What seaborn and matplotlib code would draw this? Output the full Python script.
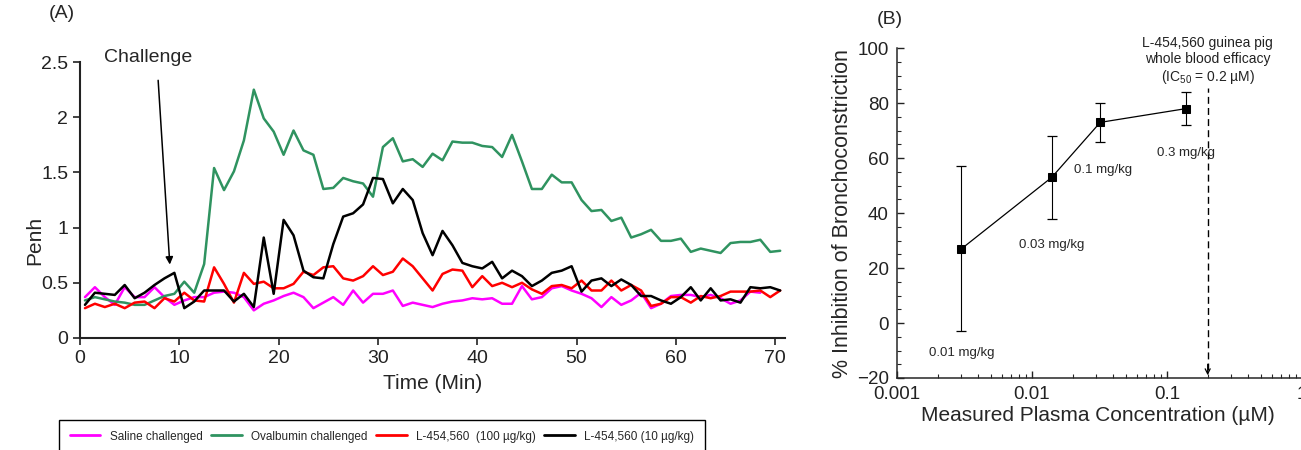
import numpy as np
import pandas as pd
import matplotlib
matplotlib.use("Agg")
import matplotlib.pyplot as plt
from matplotlib.lines import Line2D
from matplotlib.ticker import MultipleLocator, FuncFormatter
import seaborn as sns

# Panel A: Penh readings, one per minute
minutes = np.arange(0.5, 71, 1.0)

saline = [0.37, 0.46, 0.37, 0.30, 0.46, 0.37, 0.37, 0.46, 0.37, 0.30,
          0.34, 0.37, 0.37, 0.41, 0.42, 0.41, 0.37, 0.25, 0.31, 0.34,
          0.38, 0.41, 0.37, 0.27, 0.32, 0.37, 0.30, 0.43, 0.32, 0.40,
          0.40, 0.43, 0.29, 0.32, 0.30, 0.28, 0.31, 0.33, 0.34, 0.36,
          0.35, 0.36, 0.31, 0.31, 0.47, 0.35, 0.37, 0.45, 0.47, 0.43,
          0.40, 0.36, 0.28, 0.37, 0.30, 0.34, 0.41, 0.27, 0.31, 0.38,
          0.39, 0.39, 0.37, 0.39, 0.36, 0.31, 0.34, 0.42, 0.41]

ovalbumin = [0.34, 0.37, 0.35, 0.33, 0.32, 0.30, 0.30, 0.34, 0.38, 0.40,
             0.51, 0.41, 0.67, 1.54, 1.34, 1.51, 1.79, 2.25, 1.99, 1.87,
             1.66, 1.88, 1.70, 1.66, 1.35, 1.36, 1.45, 1.42, 1.40, 1.28,
             1.73, 1.81, 1.60, 1.62, 1.55, 1.67, 1.61, 1.78, 1.77, 1.77,
             1.74, 1.73, 1.64, 1.84, 1.60, 1.35, 1.35, 1.48, 1.41, 1.41,
             1.25, 1.15, 1.16, 1.06, 1.09, 0.91, 0.94, 0.98, 0.88, 0.88,
             0.90, 0.78, 0.81, 0.79, 0.77, 0.86, 0.87, 0.87, 0.89, 0.78,
             0.79]

dose_100 = [0.27, 0.31, 0.28, 0.31, 0.27, 0.32, 0.33, 0.27, 0.36, 0.33,
            0.41, 0.34, 0.33, 0.64, 0.49, 0.32, 0.59, 0.49, 0.51, 0.45,
            0.45, 0.49, 0.60, 0.57, 0.64, 0.65, 0.54, 0.52, 0.56, 0.65,
            0.57, 0.60, 0.72, 0.65, 0.54, 0.43, 0.58, 0.62, 0.61, 0.46,
            0.56, 0.47, 0.50, 0.46, 0.50, 0.44, 0.40, 0.47, 0.48, 0.45,
            0.52, 0.43, 0.43, 0.52, 0.43, 0.48, 0.43, 0.29, 0.31, 0.37,
            0.37, 0.32, 0.38, 0.36, 0.38, 0.42, 0.42, 0.42, 0.43, 0.37,
            0.43]

dose_10 = [0.30, 0.41, 0.40, 0.39, 0.48, 0.36, 0.41, 0.48, 0.54, 0.59,
           0.27, 0.33, 0.43, 0.43, 0.43, 0.33, 0.40, 0.28, 0.91, 0.40,
           1.07, 0.93, 0.61, 0.55, 0.54, 0.85, 1.10, 1.13, 1.21, 1.45,
           1.44, 1.22, 1.35, 1.25, 0.95, 0.75, 0.97, 0.84, 0.68, 0.65,
           0.63, 0.69, 0.54, 0.61, 0.56, 0.47, 0.52, 0.59, 0.61, 0.65,
           0.42, 0.52, 0.54, 0.47, 0.53, 0.48, 0.38, 0.38, 0.34, 0.31,
           0.37, 0.46, 0.34, 0.45, 0.34, 0.35, 0.32, 0.46, 0.45, 0.46,
           0.43]

group_names = ["Saline challenged", "Ovalbumin challenged",
               "L-454,560  (100 \u00b5g/kg)", "L-454,560 (10 \u00b5g/kg)"]
group_colors = ["#ff00ff", "#2f9360", "#ff0000", "#000000"]

# Panel B: dose response
conc = [0.003, 0.014, 0.032, 0.138]
inhibition = [27, 53, 73, 78]
inhibition_err = [30, 15, 7, 6]
dose_labels = ["0.01 mg/kg", "0.03 mg/kg", "0.1 mg/kg", "0.3 mg/kg"]
dose_label_x = [0.00303, 0.0141, 0.0336, 0.138]
dose_label_y = [-11, 28.4, 55.6, 61.8]
ic50 = 0.2

sns.set_style("ticks")
plt.rcParams["font.family"] = ["Liberation Sans", "DejaVu Sans"]
plt.rcParams["mathtext.fontset"] = "custom"
plt.rcParams["mathtext.rm"] = "Liberation Sans"

fig = plt.figure(figsize=(13.01, 4.5), dpi=100)

# ---- panel A
ax = fig.add_axes([0.0615, 0.249, 0.542, 0.613])
series = [saline, ovalbumin, dose_100, dose_10]
frames = []
for name, vals in zip(group_names, series):
    frames.append(pd.DataFrame({"minute": minutes[:len(vals)], "penh": vals, "group": name}))
df = pd.concat(frames, ignore_index=True)

sns.lineplot(data=df, x="minute", y="penh", hue="group", hue_order=group_names,
             palette=group_colors, estimator=None, errorbar=None, lw=1.8,
             legend=False, ax=ax)

ax.set_xlim(0, 71)
ax.set_ylim(0, 2.5)
ax.set_xticks(range(0, 71, 10))
ax.set_yticks([0, 0.5, 1, 1.5, 2, 2.5])
ax.set_yticklabels(["0", "0.5", "1", "1.5", "2", "2.5"])
ax.tick_params(direction="out", length=5, width=1.2, labelsize=14, colors="#222222")
for s in ["left", "bottom"]:
    ax.spines[s].set_linewidth(1.5)
    ax.spines[s].set_color("#222222")
sns.despine(ax=ax)
ax.set_xlabel("Time (Min)", fontsize=15)
ax.set_ylabel("Penh", fontsize=15)
ax.xaxis.set_label_coords(0.5, -0.13)
ax.yaxis.set_label_coords(-0.051, 0.355)

fig.text(148 / 1301, 1 - 57 / 450, "Challenge", fontsize=14, ha="center", va="center")
ax.annotate("", xy=(9.06, 0.64), xytext=(7.85, 2.36),
            arrowprops=dict(arrowstyle="-|>", color="black", lw=1.1, mutation_scale=11))
fig.text(62 / 1301, 1 - 13 / 450, "(A)", fontsize=14, ha="center", va="center")

handles = [Line2D([], [], color=c, lw=2) for c in group_colors]
fig.legend(handles, group_names, loc="upper left", ncol=4, mode="expand",
           bbox_to_anchor=(59 / 1301, 0.0, 646 / 1301, 1 - 420 / 450),
           borderaxespad=0, fontsize=8.5, handlelength=2.6, frameon=True,
           fancybox=False, edgecolor="black", framealpha=1,
           borderpad=0.9, columnspacing=1.5)

# ---- panel B
bx = fig.add_axes([0.6895, 0.16, 0.3113, 0.733])
bx.set_xscale("log")
bx.errorbar(conc, inhibition, yerr=inhibition_err, fmt="none", ecolor="black",
            elinewidth=0.8, capsize=3.5, capthick=0.9)
sns.lineplot(x=conc, y=inhibition, marker="s", markersize=6, color="black",
             lw=0.9, markeredgecolor="black", ax=bx)
bx.set_xlim(0.001, 1)
bx.set_ylim(-20, 100)
bx.set_yticks(range(-20, 101, 20))
bx.yaxis.set_minor_locator(MultipleLocator(5))
bx.xaxis.set_major_formatter(FuncFormatter(lambda v, p: "%g" % v))
bx.tick_params(which="major", direction="in", length=5, width=1, labelsize=13.5,
               colors="#222222")
bx.tick_params(which="minor", direction="in", length=3, width=0.8)
bx.tick_params(axis="x", which="major", pad=6)
bx.tick_params(axis="y", which="major", pad=6)
for s in ["left", "bottom"]:
    bx.spines[s].set_linewidth(1.1)
sns.despine(ax=bx)
bx.set_xlabel("Measured Plasma Concentration (\u00b5M)", fontsize=15)
bx.set_ylabel("% Inhibition of Bronchoconstriction", fontsize=15.5)
bx.xaxis.set_label_coords(0.496, -0.085)
bx.yaxis.set_label_coords(-0.109, 0.5)

for lab, lx, ly in zip(dose_labels, dose_label_x, dose_label_y):
    bx.text(lx, ly, lab, fontsize=9.5, ha="center", va="center")

bx.vlines(ic50, -17, 85.5, colors="black", linestyles=(0, (5, 3)), lw=1)
bx.annotate("", xy=(ic50, -20), xytext=(ic50, -14),
            arrowprops=dict(arrowstyle="->", color="black", lw=0.9, mutation_scale=9))
bx.text(ic50, 95.3, "L-454,560 guinea pig\nwhole blood efficacy\n(IC$_{50}$ = 0.2 \u00b5M)",
        fontsize=10, ha="center", va="center", linespacing=1.15, color="#222222")
fig.text(890 / 1301, 1 - 20 / 450, "(B)", fontsize=14, ha="center", va="center")

fig.savefig("out.png", dpi=100)
